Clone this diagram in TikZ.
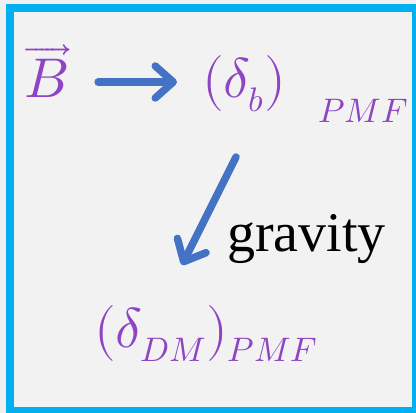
\documentclass[tikz,border=0pt]{standalone}
\usepackage{amsmath}
\usepackage{unicode-math}
\setmathfont{Latin Modern Math}
\DeclareMathSizes{56}{56}{34}{28}
\newfontfamily\gravfont{Liberation Serif}
\usetikzlibrary{arrows.meta}
\definecolor{framecol}{RGB}{0,176,240}
\definecolor{arrowcol}{RGB}{68,114,196}
\definecolor{mathcol}{RGB}{142,68,196}
\definecolor{panelcol}{RGB}{242,242,242}

\begin{document}
\begin{tikzpicture}[x=1pt,y=1pt,
  flow/.style={arrowcol,line width=7.5pt,line cap=round,
    -{Straight Barb[length=18pt,width=32pt,round]}},
  sym/.style={mathcol,inner sep=0pt,font=\fontsize{56}{60}\selectfont}]
  \clip (0,0) rectangle (416,413);
  \fill[gray!12] (0,0) rectangle (416,413);
  % framed panel
  \draw[framecol,line width=8pt,fill=panelcol] (10,2) rectangle (416,405);
  % quantities
  \node[sym,anchor=base] (B) at (46,315) {$\overrightarrow{B}$};
  \node[sym,anchor=base west] (db) at (202,315)
    {$(\delta_b)\hspace{32pt}_{\raisebox{-11pt}{$\scriptstyle PMF$}}$};
  \node[sym,anchor=base] (dm) at (206,65) {$(\delta_{DM})_{PMF}$};
  \node[font=\gravfont\fontsize{56}{60}\selectfont,inner sep=0pt,
    anchor=base west] (grav) at (227,161) {gravity};
  % arrows
  \draw[flow,shorten <=30pt,shorten >=25pt] (B.east |- 0,331) -- (db.west |- 0,331);
  \coordinate (gtop) at (236,256);
  \coordinate (gbot) at (182,148);
  \draw[flow] (gtop) -- (gbot);
\end{tikzpicture}
\end{document}
